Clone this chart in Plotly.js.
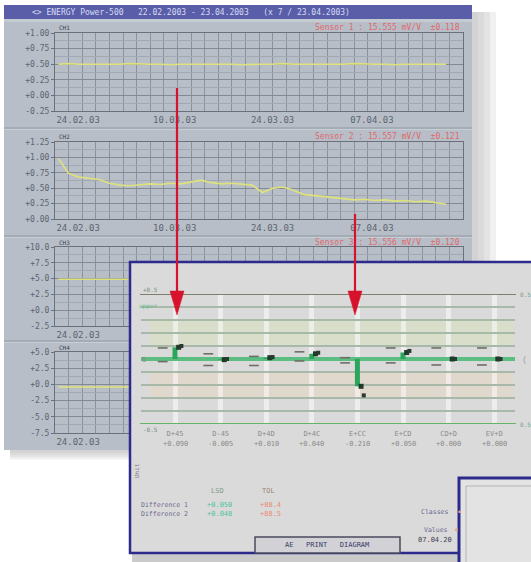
<!DOCTYPE html>
<html><head><meta charset="utf-8">
<script src="https://cdn.plot.ly/plotly-3.0.1.min.js"></script>
<style>
html,body{margin:0;padding:0;background:#ffffff;}
#wrap{position:relative;width:531px;height:562px;overflow:hidden;}
#back,#front{position:absolute;left:0;top:0;width:531px;height:562px;}
</style></head><body>
<div id="wrap"><div id="back"></div><div id="front"></div></div>
<script>
// ---------- data ----------
const days = [0.5,2,3.5,5,6.5,8,9.5,11,12.5,14,
  15.5,17,18.5,20,21.5,23,24.5,26,27.5,29,
  30.5,32,33.5,35,36.5,38,39.5,41,42.5,44,
  45.5,47,48.5,50,51.5,53,54.5,56,57.5];
const ch1 = [0.50,0.51,0.50,0.50,0.49,0.50,0.50,0.51,0.50,0.50,
  0.50,0.49,0.50,0.50,0.51,0.50,0.50,0.50,0.49,0.50,
  0.50,0.50,0.51,0.50,0.50,0.49,0.50,0.50,0.50,0.51,
  0.50,0.50,0.50,0.49,0.50,0.50,0.50,0.50,0.50];
const ch2 = [0.98,0.74,0.68,0.66,0.64,0.58,0.55,0.54,0.56,0.57,
  0.56,0.58,0.57,0.60,0.63,0.59,0.57,0.58,0.56,0.55,
  0.43,0.50,0.52,0.47,0.40,0.38,0.37,0.35,0.33,0.31,
  0.32,0.30,0.31,0.29,0.30,0.28,0.29,0.27,0.24];
const ch3 = [4.9,4.9,5.0,4.9,4.9,4.9,5.0,4.9,4.9,4.8,
  4.9,4.9,5.0,4.9,4.9,4.9,4.9,5.0,4.9,4.9,
  4.9,4.8,4.9,4.9,5.0,4.9,4.9,4.9,4.9,4.9,
  5.0,4.9,4.9,4.9,4.8,4.9,4.9,4.9,4.9];
const ch4 = [-0.4,-0.4,-0.3,-0.4,-0.4,-0.4,-0.3,-0.4,-0.4,-0.5,
  -0.4,-0.4,-0.3,-0.4,-0.4,-0.4,-0.4,-0.3,-0.4,-0.4,
  -0.4,-0.5,-0.4,-0.4,-0.3,-0.4,-0.4,-0.4,-0.4,-0.4,
  -0.3,-0.4,-0.4,-0.4,-0.5,-0.4,-0.4,-0.4,-0.4];
const dateTickVals = [3.4,17.6,32.0,46.6];
const dateTickText = ['24.02.03','10.03.03','24.03.03','07.04.03'];
const ch1Ticks = [1.0,0.75,0.5,0.25,0,-0.25];
const ch2Ticks = [1.25,1.0,0.75,0.5,0.25,0];
const ch3Ticks = [10,7.5,5,2.5,0,-2.5];
const ch4Ticks = [5,2.5,0,-2.5,-5,-7.5];
const channelNames = ['CH1','CH2','CH3','CH4'];
const sensorLabels = ['Sensor 1 : 15.555 mV/V  \u00b10.118','Sensor 2 : 15.557 mV/V  \u00b10.121','Sensor 3 : 15.556 mV/V  \u00b10.120',''];
const windowTitle = '<> ENERGY Power-500   22.02.2003 - 23.04.2003   (x 7 / 23.04.2003)';

const categories = ['D+45','D-45','D+4D','D+4C','E+CC','E+CD','CD+D','EV+D'];
const deviation  = [0.090,-0.005,0.010,0.040,-0.210,0.050,0.000,0.000];
const deviation2 = [0.100,0.000,0.015,0.048,-0.280,0.062,0.000,0.000];
const tolUpper   = [0.085,0.040,0.020,0.055,0.010,0.085,0.085,0.085];
const tolLower   = [-0.020,-0.050,-0.050,-0.015,-0.030,-0.030,-0.046,-0.046];
const limits = [0.5,-0.5];
const bandUpper = [0.1,0.3];
const bandLower = [-0.3,-0.1];
const summaryRows = ['Difference 1','Difference 2'];
const summaryHeads = ['LSD','TOL'];
const lsdValues = ['+0.050','+0.048'];
const tolValues = ['+88.4','+88.5'];
const infoLabels = ['Classes','Values'];
const infoDate = '07.04.20';
const buttonText = 'AE   PRINT   DIAGRAM';

// ---------- helpers ----------
const W=531,H=562;
const fx=x=>x/W, fy=y=>1-y/H;
const mono='DejaVu Sans Mono, monospace';
const fmt=(v,d)=>(v<0?'':'+')+v.toFixed(d);
const rect=(x0,y0,x1,y1,fill,line,lw,layer)=>({type:'rect',xref:'paper',yref:'paper',x0:fx(x0),x1:fx(x1),y0:fy(y1),y1:fy(y0),fillcolor:fill,line:{color:line||'rgba(0,0,0,0)',width:lw||0},layer:layer||'below'});
const hline=(x0,x1,y,color,w,layer)=>({type:'line',xref:'paper',yref:'paper',x0:fx(x0),x1:fx(x1),y0:fy(y),y1:fy(y),line:{color:color,width:w},layer:layer||'below'});
const txt=(x,y,t,size,color,anchor,extra)=>Object.assign({xref:'paper',yref:'paper',x:fx(x),y:fy(y),text:t,showarrow:false,xanchor:anchor||'left',yanchor:'middle',font:{family:mono,size:size,color:color}},extra||{});

// ---------- back window ----------
// panels 3 and 4 are mostly hidden by the front window: only their first date label shows
const panels=[
 {top:33,bot:111,range:[-0.25,1.0],ticks:ch1Ticks,step:0.25,dec:2,data:ch1,nx:4},
 {top:142,bot:219,range:[0,1.25],ticks:ch2Ticks,step:0.25,dec:2,data:ch2,nx:4},
 {top:247,bot:326,range:[-2.5,10],ticks:ch3Ticks,step:2.5,dec:1,data:ch3,nx:1},
 {top:352,bot:433,range:[-7.5,5],ticks:ch4Ticks,step:2.5,dec:1,data:ch4,nx:1}
];
const backTraces=[];
const backLayout={width:W,height:H,margin:{l:0,r:0,t:0,b:0},paper_bgcolor:'#ffffff',plot_bgcolor:'#b7bec7',showlegend:false,shapes:[],annotations:[]};
[[6,0.03],[12,0.04],[18,0.05],[24,0.06]].reverse().forEach(([d,a])=>{
  backLayout.shapes.push(rect(472,12,472+d,450+d*0.4,'rgba(0,0,0,'+a+')'));
  backLayout.shapes.push(rect(10,450,472,450+d*0.4,'rgba(0,0,0,'+a+')'));
});
backLayout.shapes.push(rect(4,5,472,450,'#b7bec7'));
backLayout.shapes.push(rect(4,5,472,19,'#5a5ea8'));
backLayout.shapes.push(rect(4,19,472,22,'#c4cad2'));
[128,236,341].forEach(y=>{backLayout.shapes.push(hline(4,472,y,'#9199a2',1));backLayout.shapes.push(hline(4,472,y+1.5,'#c8ced5',1));});
backLayout.annotations.push(txt(30,12,windowTitle,8,'#d6daf6','left'));
panels.forEach((p,i)=>{
  const s=i?String(i+1):'';
  backLayout['xaxis'+s]={domain:[fx(55),fx(463)],range:[0,60],anchor:'y'+s,tickmode:'array',tickvals:dateTickVals.slice(0,p.nx),ticktext:dateTickText.slice(0,p.nx),
    showgrid:false,minor:{tickmode:'linear',tick0:0,dtick:2,showgrid:true,gridcolor:'#8a929b',gridwidth:1,ticks:''},
    ticks:'',showline:true,mirror:true,linecolor:'#6a717a',zeroline:false,tickfont:{family:mono,size:9,color:'#5c6470'}};
  backLayout['yaxis'+s]={domain:[fy(p.bot),fy(p.top)],range:p.range,anchor:'x'+s,tickmode:'array',tickvals:p.ticks,ticktext:p.ticks.map(v=>fmt(v,p.dec)),
    showgrid:true,gridcolor:'#828a93',minor:{tickmode:'linear',tick0:0,dtick:p.step/2,showgrid:true,gridcolor:'#a2a9b2',ticks:''},
    ticks:'outside',ticklen:3,tickcolor:'#6a717a',showline:true,mirror:true,linecolor:'#6a717a',zeroline:false,
    tickfont:{family:mono,size:8,color:'#5c6470'}};
  backTraces.push({type:'scatter',mode:'lines',x:days,y:p.data,xaxis:'x'+s,yaxis:'y'+s,line:{color:'#dfe27c',width:1.6},hoverinfo:'skip'});
  backLayout.annotations.push(txt(57,p.top-5,channelNames[i],6,'#3c4452','left'));
  if(sensorLabels[i]) backLayout.annotations.push(txt(462,p.top-5,sensorLabels[i],8,'#e0686c','right'));
});
Plotly.newPlot('back',backTraces,backLayout,{displayModeBar:false,staticPlot:true});

// ---------- front window ----------
const frontLayout={width:W,height:H,margin:{l:0,r:0,t:0,b:0},paper_bgcolor:'rgba(0,0,0,0)',plot_bgcolor:'rgba(0,0,0,0)',showlegend:false,
  xaxis:{domain:[fx(141),fx(515)],type:'category',range:[-0.746,7.456],tickmode:'array',tickvals:categories,ticktext:categories,
    showgrid:true,gridcolor:'rgba(255,255,255,0.5)',gridwidth:5,ticklabelstandoff:4,
    ticks:'',showline:false,zeroline:false,tickfont:{family:mono,size:7,color:'#8a8a8a'},anchor:'y'},
  xaxis2:{overlaying:'x',type:'category',range:[-0.746+0.27,7.456+0.27],visible:false,anchor:'y'},
  xaxis3:{overlaying:'x',type:'category',range:[-0.746-0.08,7.456-0.08],visible:false,anchor:'y'},
  xaxis4:{overlaying:'x',type:'category',range:[-0.746-0.14,7.456-0.14],visible:false,anchor:'y'},
  yaxis:{domain:[fy(424),fy(294)],range:[-0.5,0.5],tick0:0,dtick:0.1,showticklabels:false,showgrid:true,gridcolor:'#a9b9a9',gridwidth:1.2,
    zeroline:true,zerolinecolor:'#5cbd80',zerolinewidth:4.5,showline:false,ticks:''},
  shapes:[],annotations:[]};
const fs=frontLayout.shapes, fa=frontLayout.annotations;
fs.push(rect(132,553,459,562,'#cacaca'));
fs.push(rect(130,262,545,553,'#dadada','#2c2a8c',2.5));
fs.push({type:'rect',xref:'paper',yref:'y',x0:fx(150),x1:fx(513),y0:bandUpper[0],y1:bandUpper[1],fillcolor:'rgba(214,232,170,0.3)',line:{width:0},layer:'below'});
fs.push({type:'rect',xref:'paper',yref:'y',x0:fx(150),x1:fx(513),y0:bandLower[0],y1:bandLower[1],fillcolor:'rgba(240,210,175,0.3)',line:{width:0},layer:'below'});
fs.push({type:'line',xref:'paper',yref:'y',x0:fx(140),x1:fx(516),y0:limits[0],y1:limits[0],line:{color:'#7e7f6c',width:2},layer:'above'});
fs.push({type:'line',xref:'paper',yref:'y',x0:fx(140),x1:fx(516),y0:limits[1],y1:limits[1],line:{color:'#63b46a',width:2},layer:'above'});
fs.push(rect(255,537,400,553,'#d2d2d6','#4a4a5e',1.5,'above'));
fs.push(rect(459,478,545,570,'#e3e3e3','#2c2a8c',3,'above'));
fs.push(hline(466,545,486,'#b4b4b4',1,'above'));
fs.push({type:'line',xref:'paper',yref:'paper',x0:fx(466),x1:fx(466),y0:fy(486),y1:fy(570),line:{color:'#b4b4b4',width:1},layer:'above'});
const red='#d7122c';
[[177,88],[355,214]].forEach(([x,y0])=>{
  fs.push({type:'line',xref:'paper',yref:'paper',x0:fx(x),x1:fx(x),y0:fy(y0),y1:fy(296),line:{color:red,width:2.2},layer:'above'});
  fs.push({type:'path',xref:'paper',yref:'paper',path:`M ${fx(x-7)} ${fy(291)} L ${fx(x+7)} ${fy(291)} L ${fx(x)} ${fy(315)} Z`,fillcolor:red,line:{color:red,width:0.5},layer:'above'});
});
fa.push(txt(141,289,'+0.5',6,'#7a8a7a','left'));
fa.push(txt(137,306,'upper',6,'#6fb88a','left'));
fa.push(txt(140,360,'0',7,'#8a8a8a','left'));
fa.push(txt(141,429,'-0.5',6,'#7a8a7a','left'));
fa.push(txt(518,294,'0.5',6,'#7aa08a','left'));
fa.push(txt(518,424,'0.5',6,'#7aa08a','left'));
fa.push(txt(520,360,'(',8,'#9a9a9a','left'));
categories.forEach((c,i)=>fa.push({xref:'x',yref:'paper',x:c,y:fy(444),text:fmt(deviation[i],3),showarrow:false,xanchor:'center',yanchor:'middle',font:{family:mono,size:7,color:'#8a8a8a'}}));
fa.push(txt(136,471,'Unit',6,'#7c7c88','center',{textangle:-90}));
fa.push(txt(217,491,summaryHeads[0],7,'#7f9c86','center'));
fa.push(txt(268,491,summaryHeads[1],7,'#9a8478','center'));
summaryRows.forEach((r,i)=>{
  fa.push(txt(139,505+i*9,r,6.5,'#6a6a92','left'));
  fa.push(txt(205,505+i*9,lsdValues[i],7,'#4fc2a0','left'));
  fa.push(txt(258,505+i*9,tolValues[i],7,'#e8896e','left'));
});
fa.push(txt(419,512,infoLabels[0],6.5,'#6a6a96','left'));
fa.push(txt(422,530,infoLabels[1],6.5,'#6a6a96','left'));
fa.push(txt(455,512,'\u2022',8,'#f0a070','left'));
fa.push(txt(452,530,'\u2022',8,'#f0a070','left'));
fa.push(txt(416,540,infoDate,7,'#3c3c50','left'));
fa.push(txt(327,545,buttonText,7,'#3a3a6a','center'));

const tolMarker={symbol:'line-ew-open',size:7,color:'#6e6e66',line:{width:1.6,color:'#6e6e66'}};
const frontTraces=[
 {type:'bar',x:categories,y:deviation,width:0.11,marker:{color:'#2aa55b'},hoverinfo:'skip',xaxis:'x',yaxis:'y'},
 {type:'scatter',mode:'markers',x:categories,y:tolUpper,xaxis:'x2',yaxis:'y',marker:tolMarker,hoverinfo:'skip'},
 {type:'scatter',mode:'markers',x:categories,y:tolLower,xaxis:'x2',yaxis:'y',marker:tolMarker,hoverinfo:'skip'},
 {type:'scatter',mode:'markers',x:categories,y:deviation,xaxis:'x3',yaxis:'y',marker:{symbol:'square',size:5,color:'#203a2a'},hoverinfo:'skip'},
 {type:'scatter',mode:'markers',x:categories,y:deviation2,xaxis:'x4',yaxis:'y',marker:{symbol:'square',size:4,color:'#2a3a30'},hoverinfo:'skip'}
];
Plotly.newPlot('front',frontTraces,frontLayout,{displayModeBar:false,staticPlot:true});
</script>
</body></html>
